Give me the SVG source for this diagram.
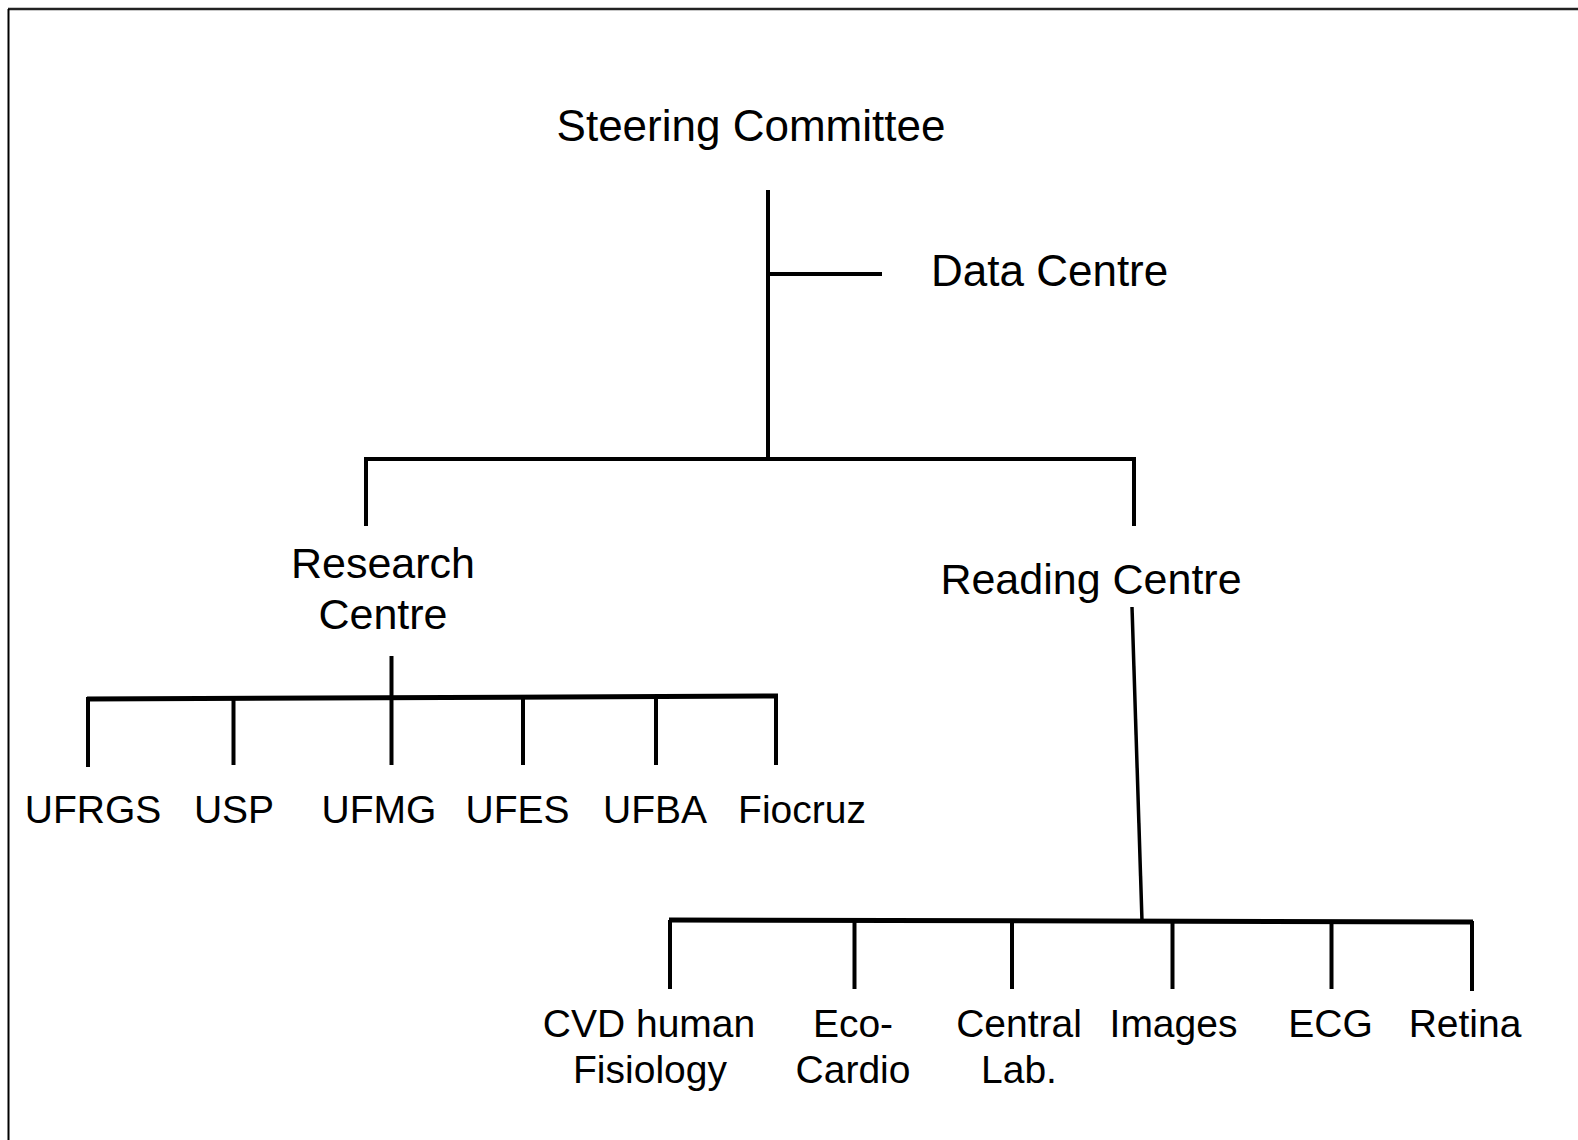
<svg xmlns="http://www.w3.org/2000/svg" width="1578" height="1140" viewBox="0 0 1578 1140">
<style>
text{font-family:"Liberation Sans",Arial,sans-serif;fill:#000}
.t1{font-size:44px}
.t2{font-size:43px;text-anchor:middle}
.t3{font-size:39px;text-anchor:middle}
.ln{stroke:#000;stroke-width:4;fill:none;stroke-linecap:butt}
.bar{stroke:#000;stroke-width:5;fill:none}
</style>
<rect width="1578" height="1140" fill="#fff"/>
<g id="frame">
<line x1="8" y1="9" x2="1578" y2="9" stroke="#222" stroke-width="2.5"/>
<line x1="8.5" y1="9" x2="8.5" y2="1140" stroke="#000" stroke-width="2"/>
</g>
<g id="connectors">
<line class="ln" x1="768" y1="190" x2="768" y2="459"/>
<line class="ln" x1="768" y1="274" x2="882" y2="274"/>
<line class="ln" x1="364" y1="459" x2="1136" y2="459"/>
<line class="ln" x1="366" y1="457" x2="366" y2="526"/>
<line class="ln" x1="1134" y1="457" x2="1134" y2="526"/>
<line class="ln" x1="391.5" y1="656" x2="391.5" y2="697"/>
<line class="bar" x1="87" y1="699" x2="778" y2="696"/>
<line class="ln" x1="88" y1="697" x2="88" y2="767"/>
<line class="ln" x1="233.5" y1="697" x2="233.5" y2="765"/>
<line class="ln" x1="391.5" y1="697" x2="391.5" y2="765"/>
<line class="ln" x1="523" y1="697" x2="523" y2="765"/>
<line class="ln" x1="656" y1="697" x2="656" y2="765"/>
<line class="ln" x1="776" y1="696" x2="776" y2="765"/>
<line class="ln" x1="1132" y1="607" x2="1142" y2="921" style="stroke-width:3.5"/>
<line class="bar" x1="669" y1="920" x2="1473" y2="922"/>
<line class="ln" x1="670" y1="920" x2="670" y2="989"/>
<line class="ln" x1="854.5" y1="921" x2="854.5" y2="989"/>
<line class="ln" x1="1012" y1="921" x2="1012" y2="989"/>
<line class="ln" x1="1172.5" y1="921" x2="1172.5" y2="989"/>
<line class="ln" x1="1331.5" y1="921" x2="1331.5" y2="989"/>
<line class="ln" x1="1472" y1="921" x2="1472" y2="991"/>
</g>
<g id="steering"><text class="t1" x="751" y="141" text-anchor="middle">Steering Committee</text></g>
<g id="data"><text class="t1" x="931" y="286">Data Centre</text></g>
<g id="research"><text class="t2" x="383" y="578">Research</text><text class="t2" x="383" y="629">Centre</text></g>
<g id="reading"><text class="t2" x="1091" y="594">Reading Centre</text></g>
<g id="ufrgs"><text class="t3" x="93" y="823">UFRGS</text></g>
<g id="usp"><text class="t3" x="234" y="823">USP</text></g>
<g id="ufmg"><text class="t3" x="379" y="823">UFMG</text></g>
<g id="ufes"><text class="t3" x="517.5" y="823">UFES</text></g>
<g id="ufba"><text class="t3" x="655" y="823">UFBA</text></g>
<g id="fiocruz"><text class="t3" x="802" y="823">Fiocruz</text></g>
<g id="cvd"><text class="t3" x="649" y="1037">CVD human</text><text class="t3" x="650" y="1083">Fisiology</text></g>
<g id="eco"><text class="t3" x="853" y="1037">Eco-</text><text class="t3" x="853" y="1083">Cardio</text></g>
<g id="lab"><text class="t3" x="1019" y="1037">Central</text><text class="t3" x="1019" y="1083">Lab.</text></g>
<g id="images"><text class="t3" x="1173.5" y="1037">Images</text></g>
<g id="ecg"><text class="t3" x="1330.5" y="1037">ECG</text></g>
<g id="retina"><text class="t3" x="1465" y="1037">Retina</text></g>
</svg>
